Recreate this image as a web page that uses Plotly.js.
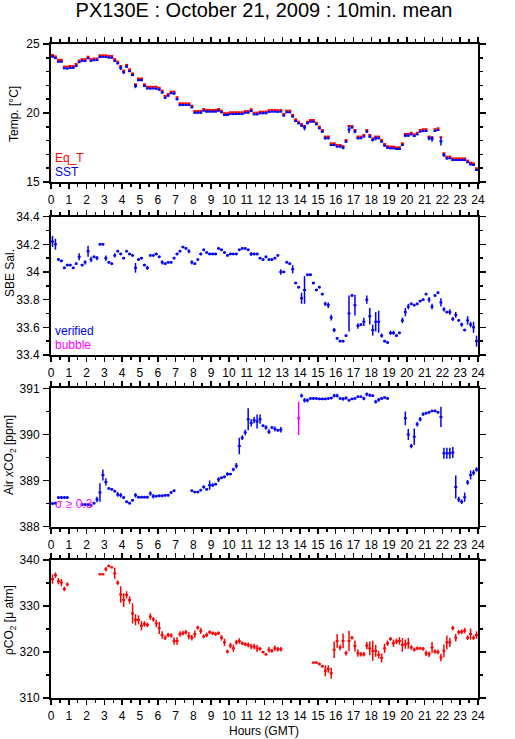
<!DOCTYPE html>
<html><head><meta charset="utf-8">
<script src="https://cdn.plot.ly/plotly-3.0.1.min.js"></script>
<style>html,body{margin:0;padding:0;background:#fff}</style>
</head><body>
<div id="chart" style="width:515px;height:739px"></div>
<script>
// ---- 10-minute means, one row per hour (6 values) ----
const eqT = [
24.2,24.1,23.85,23.85,23.36,23.36,
23.4,23.4,23.55,23.8,23.9,23.9,
24.08,23.9,23.95,23.95,24.18,24.18,
24.18,24.13,24.13,23.9,23.72,23.4,
23.07,23.48,23.16,22.87,22.08,22.5,
22.5,22.08,21.9,21.9,21.9,21.9,
21.83,21.62,21.23,21.38,21.55,21.55,
21.14,20.7,20.7,20.7,20.7,20.53,
20.14,20.14,20.14,20.29,20.22,20.22,
20.22,20.22,20.29,20.17,19.98,19.98,
20.05,20.05,20.05,20.05,20.05,20.14,
20.14,20.27,20.02,20.02,20.1,20.1,
20.1,20.2,20.22,20.22,20.2,20.22,
19.93,20.17,20.17,19.86,19.54,19.37,
19.2,19.06,19.37,19.49,19.49,19.3,
19.01,18.77,18.29,18.29,17.8,17.8,
17.68,17.68,17.6,18.04,19.06,19.06,
18.77,18.29,18.29,18.41,18.77,18.41,
18.16,18.29,18.29,18.04,17.75,17.6,
17.56,17.56,17.51,17.51,17.8,18.48,
18.48,18.57,18.45,18.57,18.77,18.82,
18.82,18.29,18.24,18.82,18.89,18.24,
17.08,16.84,16.84,16.71,16.71,16.71,
16.71,16.71,16.55,16.4,16.35,15.99];

const sst = [
24.08,23.98,23.72,23.72,23.24,23.22,
23.27,23.28,23.42,23.68,23.78,23.77,
23.96,23.78,23.83,23.83,24.06,24.07,
24.06,24.01,24.0,23.78,23.6,23.26,
22.95,23.36,23.03,22.75,21.95,22.38,
22.38,21.96,21.78,21.77,21.78,21.76,
21.7,21.5,21.1,21.25,21.43,21.42,
21.0,20.57,20.58,20.58,20.58,20.41,
20.02,20.02,20.02,20.17,20.1,20.1,
20.1,20.1,20.17,20.05,19.86,19.86,
19.93,19.92,19.93,19.93,19.93,20.02,
20.02,20.15,19.9,19.9,19.98,19.98,
19.98,20.08,20.1,20.1,20.08,20.1,
19.81,20.05,20.05,19.74,19.42,19.25,
19.08,18.94,19.25,19.37,19.37,19.18,
18.89,18.65,18.17,18.17,17.68,17.68,
17.56,17.56,17.48,17.92,18.8,18.94,
18.65,18.17,18.17,18.29,18.65,18.29,
18.04,18.17,18.17,17.92,17.63,17.48,
17.44,17.44,17.39,17.39,17.68,18.36,
18.36,18.45,18.33,18.45,18.65,18.7,
18.7,18.17,18.12,18.7,18.77,17.95,
16.96,16.72,16.72,16.59,16.59,16.59,
16.59,16.59,16.43,16.28,16.23,15.87];

const sstSd = [
.05,.05,.05,.05,.05,.05,
.05,.05,.08,.05,.05,.05,
.05,.05,.05,.05,.05,.03,
.03,.03,.03,.05,.08,.15,
.12,.1,.05,.08,.15,.08,
.08,.05,.05,.05,.05,.05,
.08,.1,.05,.05,.05,.12,
.08,.05,.05,.05,.05,.05,
.05,.05,.08,.05,.05,.05,
.05,.05,.05,.05,.05,.05,
.05,.05,.05,.05,.05,.05,
.05,.08,.05,.05,.05,.05,
.05,.05,.05,.05,.05,.05,
.05,.05,.05,.05,.08,.05,
.08,.2,.05,.05,.05,.05,
.05,.08,.1,.08,.05,.05,
.05,.05,.1,.05,.25,.05,
.12,.08,.05,.05,.08,.1,
.1,.15,.08,.05,.05,.05,
.05,.05,.05,.05,.08,.1,
.08,.05,.05,.05,.05,.05,
.05,.15,.2,.05,.05,.3,
.15,.1,.05,.05,.05,.05,
.05,.05,.05,.08,.05,.05];

const sal = [
34.22,34.2,34.09,34.08,34.03,34.05,
34.05,34.03,34.06,34.11,34.05,34.07,
34.15,34.09,34.11,34.1,34.2,34.2,
34.1,34.07,34.06,34.12,34.15,34.13,
34.1,34.15,34.13,34.12,34.03,34.09,
34.1,34.05,34.03,34.12,34.12,34.13,
34.11,34.07,34.06,34.07,34.07,34.1,
34.13,34.15,34.18,34.17,34.15,34.07,
34.06,34.09,34.13,34.16,34.14,34.13,
34.13,34.13,34.17,34.16,34.14,34.12,
34.13,34.13,34.13,34.16,34.17,34.17,
34.16,34.13,34.13,34.13,34.1,34.09,
34.11,34.09,34.09,34.1,34.12,34.0,
34.0,34.07,34.06,34.02,33.92,33.89,
33.81,33.87,33.98,33.98,33.92,33.87,
33.89,33.84,33.77,33.76,33.67,33.58,
33.52,33.5,33.5,33.54,33.7,33.83,
33.76,33.61,33.62,33.64,33.8,33.68,
33.58,33.64,33.64,33.54,33.5,33.49,
33.56,33.56,33.54,33.56,33.65,33.71,
33.75,33.77,33.76,33.77,33.79,33.8,
33.84,33.8,33.75,33.83,33.85,33.78,
33.73,33.71,33.71,33.66,33.69,33.65,
33.62,33.58,33.65,33.62,33.6,33.5];

const salSd = [
.04,.04,.01,.01,.01,.01,
.01,.01,.01,.025,.01,.015,
.04,.02,.01,.015,.01,.01,
.02,.01,.01,.015,.01,.01,
.01,.01,.01,.01,.035,.01,
.01,.01,.015,.01,.01,.01,
.01,.015,.01,.01,.01,.01,
.01,.01,.01,.01,.015,.015,
.01,.01,.01,.01,.01,.01,
.01,.01,.01,.01,.01,.01,
.01,.01,.01,.01,.01,.01,
.01,.015,.01,.01,.01,.01,
.01,.01,.01,.01,.01,.02,
.01,.01,.01,.03,.01,.01,
.04,.1,.01,.01,.01,.01,
.01,.01,.015,.02,.02,.015,
.01,.01,.01,.01,.13,.01,
.075,.02,.01,.03,.03,.06,
.04,.07,.08,.015,.01,.01,
.015,.015,.01,.01,.02,.03,
.02,.01,.01,.01,.01,.01,
.01,.02,.02,.01,.01,.03,
.015,.01,.02,.015,.02,.01,
.015,.01,.03,.02,.04,.04];

const xco2 = [
388.5,388.51,388.63,388.63,388.63,388.63,
null,null,null,null,388.48,388.48,
388.48,388.46,388.51,388.59,388.74,389.12,
388.97,388.83,388.81,388.77,388.7,388.68,
388.63,388.54,388.51,388.57,388.68,388.64,
388.64,388.64,388.64,388.72,388.66,388.66,
388.67,388.67,388.68,388.68,388.74,388.78,
null,null,null,null,null,388.78,
388.75,388.75,388.79,388.86,388.81,388.9,
388.9,388.92,389.02,389.06,389.08,389.14,
389.14,389.24,389.32,389.75,389.93,390.04,
390.33,390.25,390.31,390.28,390.33,390.19,
390.15,390.06,390.15,390.12,390.09,390.1,
null,null,null,null,null,null,
390.84,390.74,390.74,390.78,390.78,390.78,
390.77,390.77,390.77,390.78,390.79,390.84,
390.84,390.78,390.77,390.79,390.74,390.77,
390.78,390.82,390.82,390.78,390.87,390.85,
390.84,390.71,390.75,390.78,390.8,390.78,
null,null,null,null,null,390.35,
390.0,389.75,389.95,390.22,390.33,390.44,
390.46,390.48,390.51,390.51,390.48,390.38,
389.59,389.59,389.59,389.61,388.86,388.59,
388.54,388.64,388.96,389.12,389.17,389.24];

const xco2Sd = [
.03,.03,.03,.03,.03,.03,
.03,.03,.03,.03,.03,.03,
.03,.03,.03,.06,.2,.12,
.08,.03,.03,.03,.05,.05,
.03,.03,.03,.03,.05,.03,
.03,.03,.03,.05,.05,.03,
.03,.03,.03,.03,.03,.03,
.03,.03,.03,.03,.03,.03,
.03,.03,.03,.04,.03,.1,
.04,.03,.05,.03,.03,.04,
.03,.04,.06,.18,.05,.06,
.24,.08,.07,.15,.1,.03,
.05,.05,.03,.05,.03,.06,
.03,.03,.03,.03,.03,.03,
.04,.05,.04,.03,.03,.03,
.03,.03,.03,.03,.03,.04,
.04,.03,.04,.04,.03,.03,
.03,.03,.03,.04,.04,.04,
.03,.04,.04,.03,.03,.03,
.03,.03,.03,.03,.03,.15,
.12,.05,.18,.05,.05,.04,
.03,.03,.03,.03,.03,.22,
.12,.12,.12,.12,.25,.06,
.05,.1,.05,.1,.06,.05];

// sigma >= 0.3 (flagged) air xCO2 values
const xco2Flag = Array(144).fill(null);
xco2Flag[83] = 390.35;
const xco2FlagSd = Array(144).fill(null);
xco2FlagSd[83] = 0.36;

const pco2 = [
335.85,336.7,335.4,335.1,333.7,334.7,
null,null,null,null,null,null,
null,null,null,null,336.9,336.9,
338.0,338.7,338.4,337.1,335.05,332.5,
331.3,332.4,331.3,328.4,327.0,327.0,
325.7,326.1,325.9,327.7,327.1,326.2,
325.2,323.7,323.1,323.7,323.6,322.4,
322.4,323.9,324.1,324.3,323.5,323.1,
323.9,325.3,324.6,323.4,323.7,324.3,
324.1,323.9,324.1,323.1,322.1,320.1,
321.4,320.8,322.1,322.4,321.9,321.7,
321.55,321.2,321.2,320.8,320.7,320.0,
319.5,320.5,320.25,320.8,320.6,320.6,
null,null,null,null,null,null,
null,null,null,null,317.7,317.7,
317.4,316.9,315.9,316.3,315.4,320.5,
322.4,321.0,322.4,319.75,322.4,323.1,
321.3,319.75,319.5,319.5,321.4,320.8,
320.25,320.25,319.4,318.7,320.8,321.9,
322.85,321.9,322.3,322.4,321.55,321.7,
321.9,321.0,320.5,320.8,320.8,320.7,
319.75,319.5,321.0,320.1,320.0,318.8,
320.25,322.1,322.1,325.2,323.1,324.3,
324.4,324.65,323.1,323.9,323.1,323.7];

const pco2Sd = [
1.0,.6,.7,.8,.5,.4,
.3,.3,.3,.3,.3,.3,
.3,.3,.3,.3,.2,.2,
.5,.3,.2,1.2,.5,1.8,
1.5,.8,.8,2.2,1.2,1.0,
1.0,.6,.5,.7,.5,.8,
1.3,.8,.5,.5,.5,.8,
.8,.6,.5,.5,.8,.6,
.8,.4,.7,.4,.5,.4,
.4,.4,.4,.6,.8,.4,
.6,.8,.5,.6,.4,.4,
.5,.6,.6,.8,.4,.3,
.3,.6,.4,.6,.5,.5,
.3,.3,.3,.3,.3,.3,
.3,.3,.3,.3,.2,.2,
.3,.3,1.2,.8,1.2,1.8,
1.5,.6,1.6,.5,2.2,.4,
1.2,.8,.5,.5,.8,1.5,
2.2,1.3,.8,1.0,1.0,.6,
.4,.8,.6,.8,1.5,1.0,
1.2,.5,.4,.4,.3,.4,
.6,.6,1.2,.5,.5,.8,
1.4,1.5,1.0,.5,.8,.5,
.5,.6,.5,1.2,.5,.8];

// bin centres of the 10-minute means (hours GMT)
const hours = eqT.map((_, i) => (i + 0.5) / 6);

const RED = '#ff0000', BLUE = '#0000ff', MAG = '#ff00ff';
const FONT = 'Liberation Sans, Arial, Helvetica, sans-serif';
const HALF_BIN = 1 / 12;

function crosses(y, sd, color, xa, ya) {
  const t = {
    type: 'scatter', mode: 'markers', x: hours, y: y,
    xaxis: xa, yaxis: ya,
    marker: {size: 1, color: 'rgba(0,0,0,0)'},
    error_x: {type: 'constant', value: HALF_BIN, width: 0, thickness: 2, color: color},
    hoverinfo: 'skip', showlegend: false
  };
  if (sd) t.error_y = {type: 'data', array: sd, visible: true, width: 0, thickness: 1.5, color: color};
  else t.error_y = {type: 'constant', value: 0.04, visible: true, width: 0, thickness: 1.5, color: color};
  return t;
}

const traces = [
  crosses(eqT, null, RED, 'x', 'y'),
  crosses(sst, sstSd, BLUE, 'x', 'y'),
  crosses(sal, salSd, BLUE, 'x2', 'y2'),
  crosses(xco2, xco2Sd, BLUE, 'x3', 'y3'),
  crosses(xco2Flag, xco2FlagSd, MAG, 'x3', 'y3'),
  crosses(pco2, pco2Sd, RED, 'x4', 'y4')
];

// panel geometry (paper fractions)
const panels = [
  {dom: [0.789, 1.0],    range: [15, 25],      dtick: 5,   minor: 1},
  {dom: [0.5245, 0.736], range: [33.4, 34.4],  dtick: 0.2, minor: 0.1},
  {dom: [0.262, 0.4735], range: [388, 391],    dtick: 1,   minor: 0.5},
  {dom: [0.0, 0.211],    range: [310, 340],    dtick: 10,  minor: 5}
];

const tickfont = {family: FONT, size: 12, color: '#000'};
const layout = {
  width: 515, height: 739,
  margin: {l: 51, r: 37, t: 44, b: 41},
  paper_bgcolor: '#fff', plot_bgcolor: '#fff',
  showlegend: false,
  font: {family: FONT, size: 12, color: '#000'},
  title: {text: 'PX130E : October 21, 2009 : 10min. mean',
          font: {family: FONT, size: 20, color: '#000'},
          x: 264 / 515, xanchor: 'center', xref: 'container',
          y: 1 - 10 / 739, yanchor: 'middle', yref: 'container'},
  annotations: []
};

panels.forEach((p, k) => {
  const n = k + 1;
  const xs = n === 1 ? '' : n;
  layout['xaxis' + xs] = {
    domain: [0, 1], anchor: 'y' + (n === 1 ? '' : n), range: [0, 24],
    tick0: 0, dtick: 1, ticks: 'outside', ticklen: 5, tickwidth: 1.5, tickcolor: '#000',
    minor: {dtick: 0.5, tick0: 0, ticks: 'outside', ticklen: 3, tickwidth: 1.5, tickcolor: '#000'},
    showline: true, linewidth: 2, linecolor: '#000', mirror: 'ticks',
    showgrid: false, zeroline: false, tickfont: tickfont, ticklabelstandoff: 1,
    fixedrange: true
  };
  const base = {
    range: p.range, tick0: p.range[0], dtick: p.dtick, showgrid: false, zeroline: false,
    tickfont: tickfont, fixedrange: true, tickcolor: '#000'
  };
  layout['yaxis' + xs] = Object.assign({}, base, {
    domain: p.dom, anchor: 'x' + xs,
    ticks: 'outside', ticklen: 6, tickwidth: 1.5,
    minor: {dtick: p.minor, ticks: 'outside', ticklen: 3, tickwidth: 1.5, tickcolor: '#000'},
    showline: true, linewidth: 2, linecolor: '#000', mirror: 'ticks',
    ticklabelstandoff: 1
  });
  layout['yaxis' + (n + 4)] = Object.assign({}, base, {
    overlaying: 'y' + xs, anchor: 'x' + xs, side: 'left',
    ticks: 'inside', ticklen: 6, tickwidth: 1.5, mirror: 'ticks',
    showline: false, showticklabels: false
  });
  layout['yaxis' + (n + 8)] = Object.assign({}, base, {
    overlaying: 'y' + xs, anchor: 'x' + xs, side: 'right',
    ticks: 'outside', ticklen: 6, tickwidth: 1.5, tickcolor: 'rgba(0,0,0,0)',
    showline: false, showticklabels: true, ticklabelstandoff: 6
  });
});

// helpers: pixel -> paper
const PX = v => (v - 51) / 427;
const PY = v => (698 - v) / 654;

function ann(text, x, y, color, opts) {
  layout.annotations.push(Object.assign({
    text: text, xref: 'paper', yref: 'paper', x: PX(x), y: PY(y),
    showarrow: false, font: {family: FONT, size: 12, color: color || '#000'},
    xanchor: 'center', yanchor: 'middle', borderpad: 0
  }, opts || {}));
}

// axis titles
ann('Temp. [°C]', 14, 114, '#000', {textangle: -90});
ann('SBE Sal.', 10, 273, '#000', {textangle: -90});
ann('Air <i>x</i>CO<sub>2</sub> [ppm]', 10, 455, '#000', {textangle: -90});
ann('ρCO<sub>2</sub> [μ atm]', 10, 620, '#000', {textangle: -90});
ann('Hours (GMT)', 264, 731, '#000');

// in-panel legends
ann('Eq_T', 54, 158, RED, {xanchor: 'left'});
ann('SST', 54, 172, BLUE, {xanchor: 'left'});
ann('verified', 54, 331, BLUE, {xanchor: 'left'});
ann('bubble', 54, 345, MAG, {xanchor: 'left'});
ann('σ ≥ 0.3', 54, 504, MAG, {xanchor: 'left'});

Plotly.newPlot('chart', traces, layout, {staticPlot: true, displayModeBar: false});
</script>
</body></html>
